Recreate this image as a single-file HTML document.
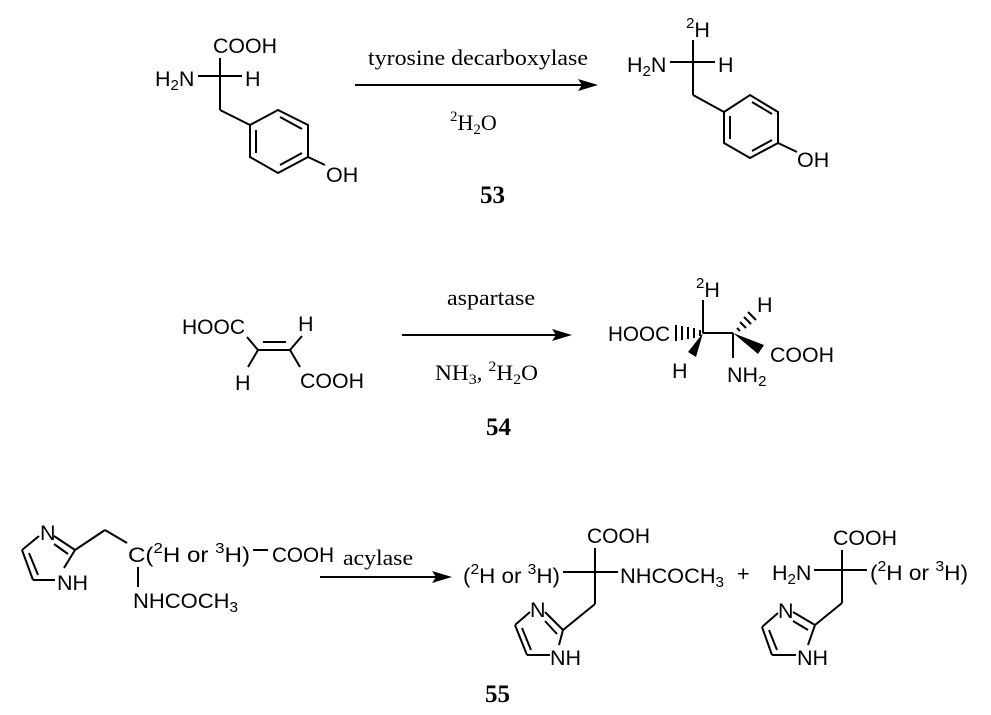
<!DOCTYPE html>
<html><head><meta charset="utf-8"><style>
html,body{margin:0;padding:0;background:#fff}
svg{display:block}
.s{font-family:"Liberation Sans",sans-serif;font-size:21.5px;fill:#000}
.r{font-family:"Liberation Serif",serif;font-size:22px;fill:#000}
.b{font-family:"Liberation Serif",serif;font-size:25px;font-weight:bold;fill:#000}
line,polyline,polygon{stroke:#000;stroke-width:2;fill:none}
.f{fill:#000;stroke:none}
</style></head><body>
<svg width="991" height="715" viewBox="0 0 991 715" xmlns="http://www.w3.org/2000/svg">
<!-- Tyrosine -->
<text class="s" x="213" y="53" textLength="64" lengthAdjust="spacingAndGlyphs">COOH</text>
<text class="s" x="155" y="86">H<tspan font-size="15" dy="4">2</tspan><tspan dy="-4">N</tspan></text>
<text class="s" x="245" y="86">H</text>
<line x1="198" y1="76" x2="242" y2="76"/>
<line x1="220" y1="58" x2="220" y2="110"/>
<line x1="220" y1="110" x2="250" y2="125"/>
<polygon points="250,125 278,110 308,125 308,157 278,173 250,157"/>
<line x1="280" y1="117" x2="302" y2="129"/>
<line x1="302" y1="153" x2="280" y2="165"/>
<line x1="256" y1="130" x2="256" y2="153"/>
<line x1="308" y1="157" x2="325" y2="165"/>
<text class="s" x="326" y="182">OH</text>

<!-- Arrow 1 -->
<text class="r" x="368" y="65" textLength="220" lengthAdjust="spacingAndGlyphs">tyrosine decarboxylase</text>
<line x1="355" y1="85" x2="585" y2="85"/>
<polygon class="f" points="598,85 578,79 582,85 578,91"/>
<text class="r" x="450" y="130"><tspan font-size="15" dy="-9">2</tspan><tspan dy="9">H</tspan><tspan font-size="15" dy="4">2</tspan><tspan dy="-4">O</tspan></text>
<text class="b" x="480" y="203">53</text>

<!-- Product 53 -->
<text class="s" x="686" y="37"><tspan font-size="15" dy="-9">2</tspan><tspan dy="9">H</tspan></text>
<line x1="693" y1="40" x2="693" y2="95"/>
<text class="s" x="627" y="72">H<tspan font-size="15" dy="4">2</tspan><tspan dy="-4">N</tspan></text>
<line x1="670" y1="62" x2="715" y2="62"/>
<text class="s" x="718" y="72">H</text>
<line x1="693" y1="95" x2="724" y2="112"/>
<polygon points="724,112 750,95 778,112 778,143 750,158 724,143"/>
<line x1="752" y1="102" x2="772" y2="114"/>
<line x1="772" y1="140" x2="752" y2="151"/>
<line x1="730" y1="116" x2="730" y2="139"/>
<line x1="778" y1="143" x2="797" y2="152"/>
<text class="s" x="797" y="167">OH</text>

<!-- Fumarate -->
<text class="s" x="182" y="334" textLength="63" lengthAdjust="spacingAndGlyphs">HOOC</text>
<line x1="247" y1="337" x2="258" y2="350"/>
<line x1="258" y1="350" x2="290" y2="350"/>
<line x1="263" y1="342" x2="286" y2="342"/>
<line x1="258" y1="350" x2="248" y2="367"/>
<text class="s" x="235" y="390">H</text>
<line x1="290" y1="350" x2="302" y2="336"/>
<text class="s" x="298" y="331">H</text>
<line x1="290" y1="350" x2="300" y2="367"/>
<text class="s" x="300" y="388" textLength="64" lengthAdjust="spacingAndGlyphs">COOH</text>

<!-- Arrow 2 -->
<text class="r" x="447" y="305" textLength="88" lengthAdjust="spacingAndGlyphs">aspartase</text>
<line x1="402" y1="335" x2="560" y2="335"/>
<polygon class="f" points="572,335 552,329 556,335 552,341"/>
<text class="r" x="435" y="380" textLength="103" lengthAdjust="spacingAndGlyphs">NH<tspan font-size="15" dy="4">3</tspan><tspan dy="-4">, </tspan><tspan font-size="15" dy="-9">2</tspan><tspan dy="9">H</tspan><tspan font-size="15" dy="4">2</tspan><tspan dy="-4">O</tspan></text>
<text class="b" x="486" y="435">54</text>

<!-- Product 54 -->
<text class="s" x="608" y="341" textLength="62" lengthAdjust="spacingAndGlyphs">HOOC</text>
<g stroke="#000" stroke-width="1.8">
<line x1="700" y1="330" x2="700" y2="336"/>
<line x1="694" y1="328" x2="694" y2="338"/>
<line x1="688" y1="327" x2="688" y2="339"/>
<line x1="682" y1="326" x2="682" y2="340"/>
<line x1="676" y1="325" x2="676" y2="341"/>
</g>
<line x1="703" y1="333" x2="703" y2="300"/>
<text class="s" x="696" y="297"><tspan font-size="15" dy="-9">2</tspan><tspan dy="9">H</tspan></text>
<polygon class="f" points="703,333 688,352 696,357"/>
<text class="s" x="672" y="378">H</text>
<line x1="703" y1="333" x2="733" y2="333"/>
<g stroke="#000" stroke-width="1.8">
<line x1="737" y1="328" x2="740" y2="331"/>
<line x1="740" y1="322" x2="746" y2="328"/>
<line x1="744" y1="317" x2="751" y2="324"/>
<line x1="748" y1="312" x2="756" y2="320"/>
</g>
<text class="s" x="757" y="312">H</text>
<polygon class="f" points="733,333 758,354 764,345"/>
<text class="s" x="770" y="362" textLength="64" lengthAdjust="spacingAndGlyphs">COOH</text>
<line x1="733" y1="333" x2="733" y2="358"/>
<text class="s" x="727" y="382">NH<tspan font-size="15" dy="4">2</tspan></text>

<!-- Scheme 55 reactant -->
<text class="s" x="40" y="540">N</text>
<text class="s" x="57" y="590">NH</text>
<line x1="22" y1="550" x2="39" y2="536"/>
<line x1="22" y1="550" x2="33" y2="580"/>
<line x1="29" y1="553" x2="38" y2="575"/>
<line x1="33" y1="580" x2="55" y2="580"/>
<line x1="64" y1="568" x2="75" y2="550"/>
<line x1="75" y1="550" x2="54" y2="536"/>
<line x1="68" y1="554" x2="54" y2="544"/>
<line x1="75" y1="550" x2="105" y2="530"/>
<line x1="105" y1="530" x2="127" y2="543"/>
<text class="s" x="128" y="562" textLength="122" lengthAdjust="spacingAndGlyphs">C(<tspan font-size="15" dy="-9">2</tspan><tspan dy="9">H or </tspan><tspan font-size="15" dy="-9">3</tspan><tspan dy="9">H)</tspan></text>
<line x1="253" y1="550" x2="268" y2="550"/>
<text class="s" x="272" y="562" textLength="62" lengthAdjust="spacingAndGlyphs">COOH</text>
<line x1="138" y1="567" x2="138" y2="587"/>
<text class="s" x="133" y="608" textLength="105" lengthAdjust="spacingAndGlyphs">NHCOCH<tspan font-size="15" dy="4">3</tspan></text>

<!-- Arrow 3 -->
<text class="r" x="343" y="565" textLength="70" lengthAdjust="spacingAndGlyphs">acylase</text>
<line x1="320" y1="577" x2="440" y2="577"/>
<polygon class="f" points="452,577 432,571 436,577 432,583"/>

<!-- Product 55a -->
<text class="s" x="463" y="583" textLength="97" lengthAdjust="spacingAndGlyphs">(<tspan font-size="15" dy="-9">2</tspan><tspan dy="9">H or </tspan><tspan font-size="15" dy="-9">3</tspan><tspan dy="9">H)</tspan></text>
<line x1="563" y1="572" x2="618" y2="572"/>
<text class="s" x="587" y="543" textLength="63" lengthAdjust="spacingAndGlyphs">COOH</text>
<line x1="595" y1="548" x2="595" y2="604"/>
<text class="s" x="620" y="583" textLength="104" lengthAdjust="spacingAndGlyphs">NHCOCH<tspan font-size="15" dy="4">3</tspan></text>
<text class="s" x="737" y="581">+</text>
<line x1="595" y1="604" x2="563" y2="630"/>
<text class="s" x="530" y="617">N</text>
<text class="s" x="550" y="665">NH</text>
<line x1="515" y1="625" x2="530" y2="612"/>
<line x1="515" y1="625" x2="527" y2="655"/>
<line x1="522" y1="628" x2="531" y2="650"/>
<line x1="527" y1="655" x2="550" y2="655"/>
<line x1="559" y1="645" x2="563" y2="630"/>
<line x1="563" y1="630" x2="545" y2="612"/>
<line x1="557" y1="634" x2="545" y2="621"/>
<text class="b" x="485" y="702">55</text>

<!-- Product 55b -->
<text class="s" x="772" y="580">H<tspan font-size="15" dy="4">2</tspan><tspan dy="-4">N</tspan></text>
<line x1="814" y1="570" x2="867" y2="570"/>
<text class="s" x="833" y="545" textLength="64" lengthAdjust="spacingAndGlyphs">COOH</text>
<line x1="842" y1="550" x2="842" y2="603"/>
<text class="s" x="870" y="580" textLength="98" lengthAdjust="spacingAndGlyphs">(<tspan font-size="15" dy="-9">2</tspan><tspan dy="9">H or </tspan><tspan font-size="15" dy="-9">3</tspan><tspan dy="9">H)</tspan></text>
<line x1="842" y1="603" x2="815" y2="625"/>
<text class="s" x="778" y="618">N</text>
<text class="s" x="797" y="665">NH</text>
<line x1="762" y1="627" x2="778" y2="613"/>
<line x1="762" y1="627" x2="772" y2="655"/>
<line x1="769" y1="630" x2="777" y2="650"/>
<line x1="772" y1="655" x2="796" y2="655"/>
<line x1="808" y1="645" x2="815" y2="625"/>
<line x1="815" y1="625" x2="793" y2="612"/>
<line x1="808" y1="630" x2="793" y2="621"/>
</svg>
</body></html>
